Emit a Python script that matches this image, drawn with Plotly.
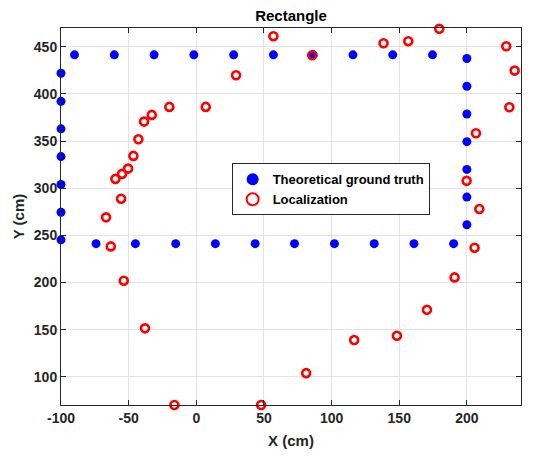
import plotly.graph_objects as go

# Theoretical ground truth: rectangular path (top, right, bottom, left sides)
truth_x = [-90, -60.6, -31.2, -1.8, 27.6, 57, 86.4, 115.8, 145.2, 174.6,
           200, 200, 200, 200, 200, 200, 200,
           190.2, 160.9, 131.5, 102.1, 72.6, 43.5, 14.1, -15.2, -45.0, -74.1,
           -100, -100, -100, -100, -100, -100, -100]
truth_y = [441.5, 441.5, 441.5, 441.5, 441.5, 441.5, 441.5, 441.5, 441.5, 441.5,
           437.6, 408.2, 378.8, 349.4, 320, 290.6, 261.2,
           241.2, 241.2, 241.2, 241.2, 241.2, 241.2, 241.2, 241.2, 241.2, 241.2,
           245.2, 274.5, 304, 333.6, 363, 392.2, 422]

# Localization estimates
loc_x = [57.0, 85.7, 29.4, 7.0, -19.9, -32.9, -38.6, -42.8, 138.4, 156.7,
         179.6, 229.1, 235.3, 231.4, 206.7,
         -46.5, -50.4, -54.9, -59.8, -55.6, -66.7, -63.2, -53.6,
         199.8, 209.2, 205.7, 190.9,
         -37.9, -16.2, 47.9, 81.2, 116.7, 148.3, 170.5]
loc_y = [461.3, 441.1, 419.9, 386.3, 386.3, 377.8, 370.7, 351.9, 453.8, 456.0,
         469.1, 450.6, 424.8, 385.9, 358.3,
         334.3, 320.8, 315.2, 309.9, 288.9, 269.1, 238.3, 201.9,
         307.8, 278.0, 236.9, 205.4,
         151.3, 70, 70, 103.8, 138.9, 143.4, 171.0]

x_ticks = [-100, -50, 0, 50, 100, 150, 200]
y_ticks = [100, 150, 200, 250, 300, 350, 400, 450]

FONT = "Liberation Sans, Arial, Helvetica, sans-serif"
INK = "#262626"

fig = go.Figure()
fig.add_trace(go.Scatter(
    x=truth_x, y=truth_y, mode="markers", name="<b>Theoretical ground truth</b>",
    marker=dict(color="#0000ff", size=9, symbol="circle", line=dict(width=0)),
    cliponaxis=False,
))
fig.add_trace(go.Scatter(
    x=loc_x, y=loc_y, mode="markers", name="<b>Localization</b>",
    marker=dict(color="#ff0000", size=8, symbol="circle-open", line=dict(width=2.6, color="#ff0000")),
    cliponaxis=False,
))

axis_common = dict(
    showline=True, linecolor=INK, linewidth=1, mirror="ticks",
    ticks="inside", ticklen=5, tickcolor=INK, tickwidth=1,
    showgrid=True, gridcolor="#e3e3e3", gridwidth=1, zeroline=False,
    tickfont=dict(family=FONT, size=14, color=INK, weight="bold"),
)

fig.update_layout(
    width=545, height=457,
    margin=dict(l=61, r=24, t=28, b=52),
    paper_bgcolor="white", plot_bgcolor="white",
    title=dict(text="<b>Rectangle</b>", x=(61 + 521) / 2 / 545, xanchor="center",
               y=1 - 16 / 457, yanchor="middle",
               font=dict(family=FONT, size=15, color="#000000")),
    xaxis=dict(range=[-100, 240], tickvals=x_ticks, ticktext=[str(v) for v in x_ticks],
               title=dict(text="<b>X (cm)</b>", standoff=10,
                          font=dict(family=FONT, size=15, color=INK)),
               **axis_common),
    yaxis=dict(range=[70, 470], tickvals=y_ticks, ticktext=[str(v) for v in y_ticks],
               title=dict(text="<b>Y (cm)</b>", standoff=5,
                          font=dict(family=FONT, size=15, color=INK)),
               **axis_common),
    legend=dict(x=0.371, y=0.641, xanchor="left", yanchor="top",
                bgcolor="white", bordercolor="#262626", borderwidth=1,
                font=dict(family=FONT, size=13, color="#000000"),
                tracegroupgap=0, itemsizing="constant"),
    showlegend=True,
)

fig.write_html("out.html")
